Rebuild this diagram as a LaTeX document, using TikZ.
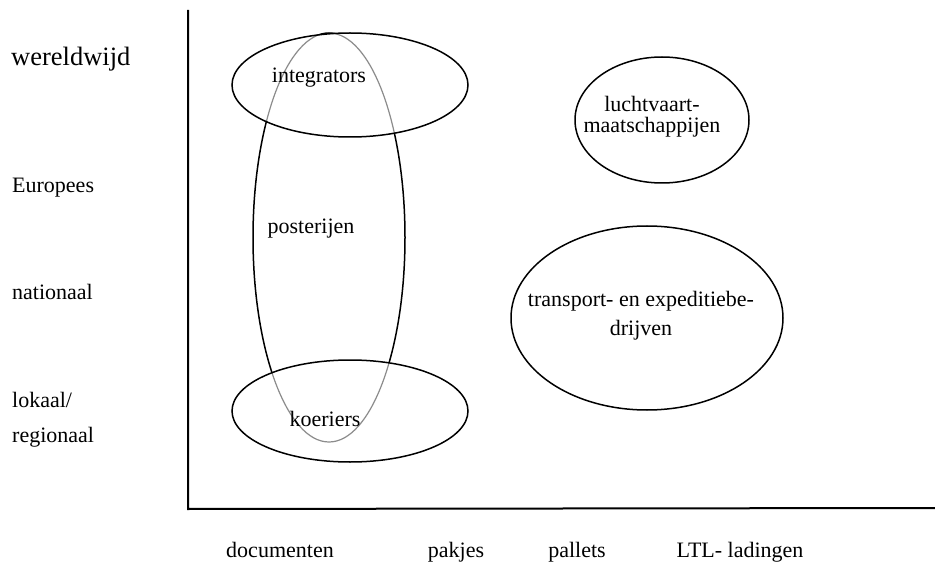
\documentclass[tikz,border=0pt]{standalone}
\usepackage{fontspec}
\setmainfont{Liberation Serif}
\begin{document}
\begin{tikzpicture}[x=1pt,y=-1pt,
  lbl/.style={font=\fontsize{22}{26}\selectfont, inner sep=0pt, anchor=base},
  lblw/.style={font=\fontsize{22}{26}\selectfont, inner sep=0pt, anchor=base west},
  big/.style={font=\fontsize{26.5}{30}\selectfont, inner sep=0pt, anchor=base west},
  oval/.style={draw=black, line width=1.5pt},
  greyoval/.style={draw=black!45, line width=1.2pt},
  axisline/.style={line width=2pt}]
\useasboundingbox (0,0) rectangle (935,564);
% axes
\coordinate (ytop) at (188,10);
\coordinate (origin) at (188,509);
\coordinate (xend) at (935,508);
\draw[axisline] (ytop) -- (origin) -- (xend);
% tall ellipse (posterijen)
\draw[oval] (329,237.5) ellipse [x radius=76, y radius=204.5];
\begin{scope}
  \clip (350,85) ellipse [x radius=118, y radius=52];
  \draw[white, line width=3pt] (329,237.5) ellipse [x radius=76, y radius=204.5];
  \draw[greyoval] (329,237.5) ellipse [x radius=76, y radius=204.5];
\end{scope}
\begin{scope}
  \clip (350,411) ellipse [x radius=118, y radius=51];
  \draw[white, line width=3pt] (329,237.5) ellipse [x radius=76, y radius=204.5];
  \draw[greyoval] (329,237.5) ellipse [x radius=76, y radius=204.5];
\end{scope}
% other ellipses
\draw[oval] (350,85) ellipse [x radius=118, y radius=52];
\draw[oval] (350,411) ellipse [x radius=118, y radius=51];
\draw[oval] (662,120) ellipse [x radius=87, y radius=63];
\draw[oval] (647,318) ellipse [x radius=136, y radius=92];
% ellipse labels
\node[lbl] (integr) at (319,83) {integrators};
\node[lbl] (poster) at (311,234) {posterijen};
\node[lbl] (koer) at (325,426) {koeriers};
\node[lbl] (lucht1) at (652,112) {luchtvaart-};
\node[lbl] (lucht2) at (652,133) {maatschappijen};
\node[lbl] (trans1) at (641,307) {transport- en expeditiebe-};
\node[lbl] (trans2) at (641,335) {drijven};
% y-axis labels
\node[big] (ww) at (11,66) {wereldwijd};
\node[lblw] (eu) at (12,193) {Europees};
\node[lblw] (nat) at (12,299) {nationaal};
\node[lblw] (lok) at (12,407) {lokaal/};
\node[lblw] (reg) at (12,442) {regionaal};
% x-axis labels
\node[lbl] (doc) at (280,557) {documenten};
\node[lbl] (pak) at (456,557) {pakjes};
\node[lbl] (pal) at (577,557) {pallets};
\node[lbl] (ltl) at (740,557) {LTL- ladingen};
\end{tikzpicture}
\end{document}
